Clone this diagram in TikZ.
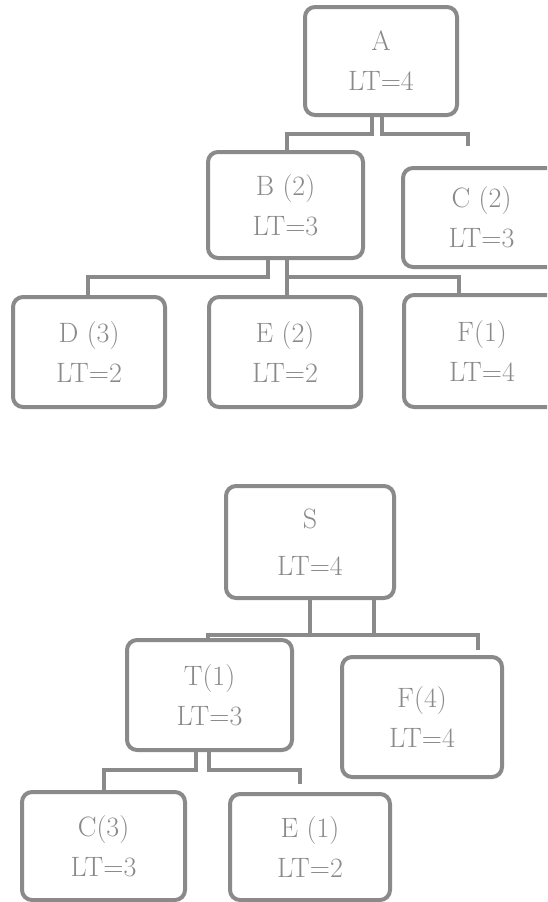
\documentclass[tikz,border=0pt]{standalone}
\usepackage{tikz}
\usetikzlibrary{calc,positioning}
\definecolor{edgec}{HTML}{8A8A8A}
\definecolor{txtc}{HTML}{8A8A8A}
\tikzset{
  box/.style={draw=edgec,line width=4pt,rounded corners=10pt,fill=white,align=center,inner sep=0pt,text=txtc,font=\fontsize{28}{40}\selectfont},
  link/.style={draw=edgec,line width=4pt}
}
\begin{document}
\begin{tikzpicture}[x=1pt,y=-1pt]
\useasboundingbox (0,0) rectangle (547,902);
\clip (0,0) rectangle (547,902);
% upper tree
\node[box,minimum width=152pt,minimum height=108pt] (A) at (381,61) {A\\LT=4};
\node[box,minimum width=155pt,minimum height=106pt] (B) at (285.5,205) {B (2)\\LT=3};
\node[box,minimum width=157pt,minimum height=99pt] (C) at (481.5,217.5) {C (2)\\LT=3};
\node[box,minimum width=152pt,minimum height=110pt] (D) at (89,352) {D (3)\\LT=2};
\node[box,minimum width=152pt,minimum height=110pt] (E) at (285,352) {E (2)\\LT=2};
\node[box,minimum width=156pt,minimum height=112pt] (F) at (482,351) {F(1)\\LT=4};
\draw[link] ([xshift=-9pt]A.south) -- ++(0,17) -| ([xshift=1.5pt]B.north);
\draw[link,shorten >=20pt] ([xshift=1pt]A.south) -- ++(0,17) -| ([xshift=-13.5pt]C.north);
\draw[link] ([xshift=-17.5pt]B.south) -- ++(0,17) -| ([xshift=-1pt]D.north);
\draw[link] ([xshift=1.5pt]B.south) -- ([xshift=1.5pt]B.south |- E.north);
\draw[link] ([xshift=1.5pt]B.south) -- ++(0,17) -| ([xshift=-23pt]F.north);
% lower tree
\node[box,minimum width=168pt,minimum height=112pt] (S) at (310,542) {S\\[7pt]LT=4};
\node[box,minimum width=165pt,minimum height=110pt] (T) at (209.5,695) {T(1)\\LT=3};
\node[box,minimum width=160pt,minimum height=120pt] (F4) at (422,717) {F(4)\\LT=4};
\node[box,minimum width=163pt,minimum height=108pt] (C3) at (103.5,846) {C(3)\\LT=3};
\node[box,minimum width=160pt,minimum height=106pt] (E1) at (310,847) {E (1)\\LT=2};
\draw[link] ([xshift=64pt]S.south) |- ($(S.south)+(0,35)$) -| ([xshift=-1.5pt]T.north);
\draw[link,shorten >=5pt] (S.south) |- ($(S.south)+(64,35)$) -| ([xshift=56pt]F4.north);
\draw[link] ([xshift=-13.5pt]T.south) -- ++(0,18) -| (C3.north);
\draw[link,shorten >=8pt] ([xshift=-0.5pt]T.south) -- ++(0,18) -| ([xshift=-10pt]E1.north);
\end{tikzpicture}
\end{document}
